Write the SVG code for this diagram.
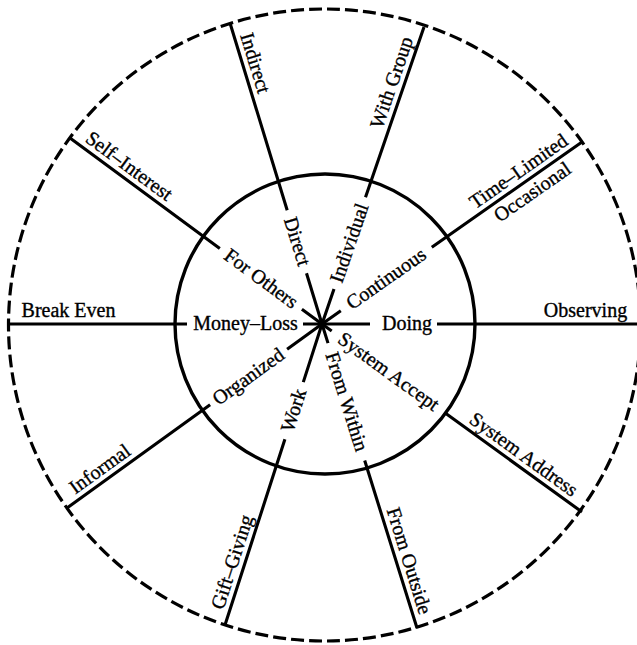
<svg xmlns="http://www.w3.org/2000/svg" width="637" height="645" viewBox="0 0 637 645">
  <style>
    .spoke { stroke: #000; stroke-width: 3.1; fill: none; stroke-linecap: butt; }
    .ring { stroke: #000; stroke-width: 3.4; fill: none; }
    .dashed { stroke: #000; stroke-width: 3.2; fill: none; stroke-dasharray: 7.2 2.8; stroke-dashoffset: 3.6; }
    text { font-family: "Liberation Serif", "Times New Roman", serif; font-size: 20px; fill: #000; stroke: #000; stroke-width: 0.35; text-anchor: middle; }
  </style>
  <rect width="637" height="645" fill="#fff"/>
  <g id="rings">
    <circle class="dashed" cx="324.5" cy="325" r="316" pathLength="1100"/>
    <circle class="ring" cx="325" cy="324" r="150"/>
  </g>
  <g id="connectors">
    <path class="spoke" d="M322 324 L306.5 273.3 M287.2 210.2 L230 23"/>
    <path class="spoke" d="M322 324 L334 289 M365.5 197.2 L424 27"/>
    <path class="spoke" d="M322 324 L340.8 310.8 M431.8 247.2 L582 142"/>
    <path class="spoke" d="M322 324 L370 324 M437 324 L637 324"/>
    <path class="spoke" d="M322 324 L331.7 331 M445.2 413.1 L582 512"/>
    <path class="spoke" d="M322 324 L328 343.1 M364.7 460.5 L417 628"/>
    <path class="spoke" d="M322 324 L303.3 382.1 M284.9 439.2 L225 625"/>
    <path class="spoke" d="M322 324 L287.1 349.2 M210.1 404.7 L67 508"/>
    <path class="spoke" d="M322 324 L303 324 M187 324 L8 324"/>
    <path class="spoke" d="M322 324 L301.9 309.2 M219.8 248.6 L70 138"/>
  </g>
  <g id="spoke-direct">
    <text transform="translate(243.4 66.7) rotate(73)" y="-6">Indirect</text>
    <text transform="translate(296.9 241.7) rotate(73)" y="6">Direct</text>
  </g>
  <g id="spoke-group">
    <text transform="translate(403.5 86.6) rotate(-71)" y="-6">With Group</text>
    <text transform="translate(349.8 243.1) rotate(-71)" y="6">Individual</text>
  </g>
  <g id="spoke-time">
    <text transform="translate(525.7 181.5) rotate(-35)" y="-6">Time–Limited</text>
    <text transform="translate(525.2 181.8) rotate(-35)" y="19">Occasional</text>
    <text transform="translate(386.3 279) rotate(-35)" y="6">Continuous</text>
  </g>
  <g id="spoke-doing">
    <text transform="translate(585.5 324)" y="-7">Observing</text>
    <text transform="translate(407 324)" y="6">Doing</text>
  </g>
  <g id="spoke-system">
    <text transform="translate(516.4 464.6) rotate(35.9)" y="-6">System Address</text>
    <text transform="translate(388.4 372) rotate(35.9)" y="6">System Accept</text>
  </g>
  <g id="spoke-from">
    <text transform="translate(397.2 564.5) rotate(72.6)" y="-6">From Outside</text>
    <text transform="translate(346.3 401.8) rotate(72.6)" y="6">From Within</text>
  </g>
  <g id="spoke-work">
    <text transform="translate(244.1 565.8) rotate(-72.1)" y="-6">Gift–Giving</text>
    <text transform="translate(294.1 410.6) rotate(-72.1)" y="6">Work</text>
  </g>
  <g id="spoke-organized">
    <text transform="translate(107.1 479.1) rotate(-35.8)" y="-6">Informal</text>
    <text transform="translate(248.6 377) rotate(-35.8)" y="6">Organized</text>
  </g>
  <g id="spoke-money">
    <text transform="translate(68.5 324)" y="-7">Break Even</text>
    <text transform="translate(245.5 324)" y="6">Money–Loss</text>
  </g>
  <g id="spoke-others">
    <text transform="translate(121.7 176.1) rotate(36.4)" y="-6">Self–Interest</text>
    <text transform="translate(260.9 278.9) rotate(36.4)" y="6">For Others</text>
  </g>
</svg>
